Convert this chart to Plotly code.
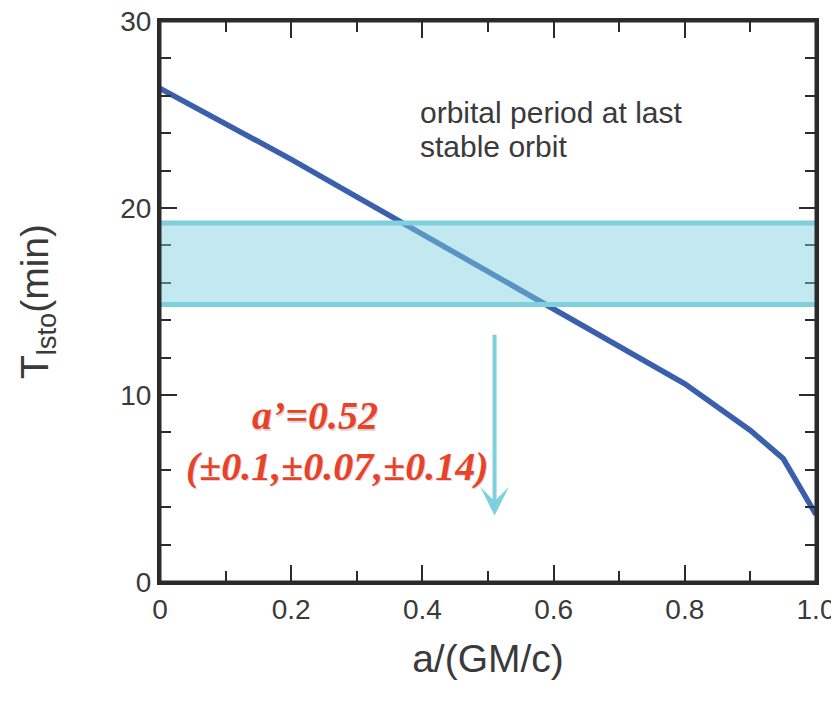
import plotly.graph_objects as go

# Data
spin = [0, 0.1, 0.2, 0.3, 0.4, 0.5, 0.6, 0.7, 0.8, 0.9, 0.95, 1.0]
t_lsto = [26.4, 24.5, 22.6, 20.6, 18.6, 16.6, 14.6, 12.6, 10.6, 8.1, 6.6, 3.6]

band_low = 14.84
band_high = 19.2
band_x = [-0.01, 1.006]

arrow_x = 0.51
arrow_top = 13.3
arrow_tip = 3.55

x_tickvals = [0, 0.2, 0.4, 0.6, 0.8, 1.0]
x_ticktext = ["0", "0.2", "0.4", "0.6", "0.8", "1.0"]
y_tickvals = [0, 10, 20, 30]

note_lines = ["orbital period at last", "stable orbit"]
result_lines = ["a’=0.52", "(±0.1,±0.07,±0.14)"]

LINE = "#3a5fad"
CYAN = "rgb(125,208,220)"
RED = "#ea4129"
AX = "#2b2b2b"
TXT = "#3a3a3a"

fig = go.Figure()
fig.add_trace(go.Scatter(x=spin, y=t_lsto, mode="lines",
                         line=dict(color=LINE, width=5.5), showlegend=False,
                         hoverinfo="skip"))
# invisible twin so the top / right tick axes get drawn
fig.add_trace(go.Scatter(x=spin, y=t_lsto, mode="lines", xaxis="x2", yaxis="y2",
                         opacity=0, showlegend=False, hoverinfo="skip"))

fig.add_shape(type="rect", xref="x", yref="y",
              x0=band_x[0], x1=band_x[1], y0=band_low, y1=band_high,
              fillcolor="rgba(125,208,220,0.47)",
              line=dict(color=CYAN, width=5), layer="above")

# plot frame
fig.add_shape(type="rect", xref="paper", yref="paper", x0=0, x1=1, y0=0, y1=1,
              line=dict(color=AX, width=3), fillcolor="rgba(0,0,0,0)", layer="above")

# arrow
fig.add_annotation(x=arrow_x, y=arrow_tip, ax=arrow_x, ay=arrow_top,
                   xref="x", yref="y", axref="x", ayref="y",
                   text="", showarrow=True, arrowhead=3, arrowsize=1.2,
                   arrowwidth=4, arrowcolor=CYAN)

note_font = dict(family="Liberation Sans, Arial", size=30, color=TXT)
for txt, yy in zip(note_lines, [25.1, 23.3]):
    fig.add_annotation(x=0.393, y=yy, xref="x", yref="y", text=txt,
                       showarrow=False, xanchor="left", yanchor="middle",
                       font=note_font)

red_font = dict(family="Liberation Serif, Times New Roman", size=40, color=RED,
                weight="bold", style="italic")
shadow_font = dict(red_font, color="rgba(120,120,120,0.3)")
for txt, xx, yy in zip(result_lines, [0.236, 0.27], [8.9, 6.2]):
    fig.add_annotation(x=xx, y=yy, xref="x", yref="y", text=txt, showarrow=False,
                       xanchor="center", yanchor="middle", xshift=1.5, yshift=-1.5,
                       font=shadow_font)
    fig.add_annotation(x=xx, y=yy, xref="x", yref="y", text=txt, showarrow=False,
                       xanchor="center", yanchor="middle", font=red_font)

tick_common = dict(showline=True, linecolor=AX, linewidth=3,
                   ticks="inside", tickcolor=AX, tickwidth=2, ticklen=17,
                   showgrid=False, zeroline=False, automargin=False)
label_font = dict(family="Liberation Sans, Arial", size=28, color=TXT)
x_minor = dict(dtick=0.1, ticklen=11, tickwidth=2, tickcolor=AX, ticks="inside")
y_minor = dict(dtick=2, ticklen=11, tickwidth=2, tickcolor=AX, ticks="inside")

fig.update_layout(
    xaxis=dict(range=[0, 1.0], tickvals=x_tickvals, ticktext=x_ticktext,
               minor=x_minor, tickfont=label_font, ticklabeloverflow="allow",
               title=dict(text="a/(GM/c)", standoff=22,
                          font=dict(family="Liberation Sans, Arial", size=39, color=TXT)),
               **tick_common),
    yaxis=dict(range=[0, 30], tickvals=y_tickvals, minor=y_minor,
               tickfont=label_font, ticklabeloverflow="allow",
               title=dict(text="T<sub>lsto</sub>(min)", standoff=60,
                          font=dict(family="Liberation Sans, Arial", size=39, color=TXT)),
               **tick_common),
    xaxis2=dict(overlaying="x", side="top", anchor="y2", matches="x",
                tickvals=x_tickvals, minor=x_minor, showticklabels=False, **tick_common),
    yaxis2=dict(overlaying="y", side="right", anchor="x2", matches="y",
                tickvals=y_tickvals, minor=y_minor, showticklabels=False, **tick_common),
    width=839, height=705, plot_bgcolor="white", paper_bgcolor="white",
    margin=dict(l=152, r=31, t=13, b=131),
)

fig.write_html("out.html")
